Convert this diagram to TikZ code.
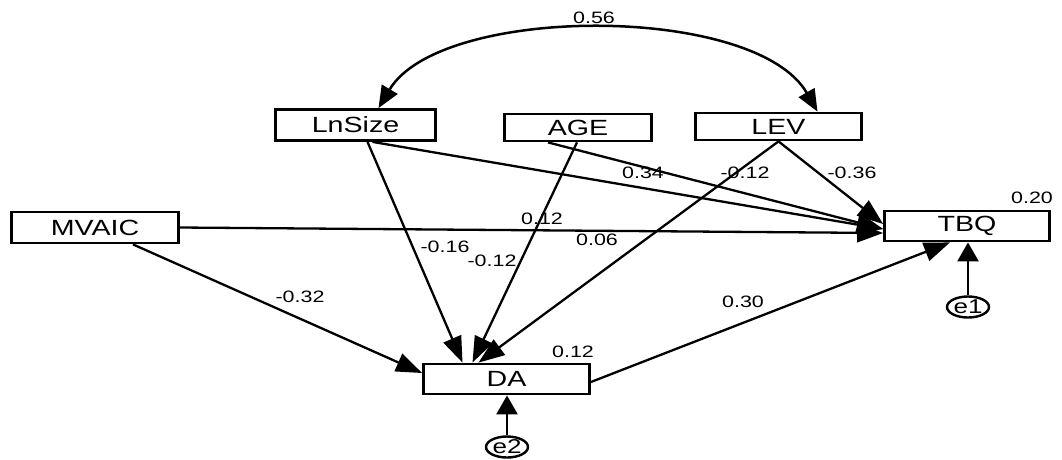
\documentclass[tikz,border=0pt]{standalone}
\usepackage{fontspec}
\setmainfont{Liberation Sans}[FakeStretch=1.3]
\usetikzlibrary{positioning,arrows.meta,calc,shapes.geometric}

\begin{document}
\begin{tikzpicture}[x=1pt,y=-1pt,
  var/.style={draw, line width=2.8pt, inner sep=0pt, font=\fontsize{22}{24}\selectfont},
  err/.style={draw, ellipse, line width=2.4pt, inner sep=0pt, minimum width=42pt, minimum height=21pt, font=\fontsize{20}{20}\selectfont},
  wt/.style={inner sep=0pt, font=\fontsize{16.5}{18}\selectfont},
  reg/.style={line width=2.3pt, -{Triangle[length=26pt,width=19pt]}},
  res/.style={line width=2.5pt, -{Triangle[length=19pt,width=21pt]}},
  cov/.style={line width=2.5pt, {Triangle[length=22pt,width=18pt]}-{Triangle[length=22pt,width=18pt]}}]
  \useasboundingbox (0,0) rectangle (1062,459);

  % Observed variables
  \node[var, minimum width=167pt, minimum height=31pt] (MVAIC) at (95,227.5) {MVAIC};
  \node[var, minimum width=160pt, minimum height=31pt] (LnSize) at (355.5,125) {LnSize};
  \node[var, minimum width=147pt, minimum height=27pt] (AGE) at (578,127.5) {AGE};
  \node[var, minimum width=166pt, minimum height=27pt] (LEV) at (778.5,126.5) {LEV};
  \node[var, minimum width=165pt, minimum height=30pt] (TBQ) at (967,226) {TBQ};
  \node[var, minimum width=166pt, minimum height=30pt] (DA) at (506.5,379) {DA};

  % Error terms
  \node[err] (e1) at (968,307) {e1};
  \node[err] (e2) at (507,447) {e2};

  % Covariance
  \draw[cov] ($(LnSize.north)+(23,0)$) .. controls +(62,-104) and +(-62,-108) .. ($(LEV.north)+(39,0)$);

  % Paths into DA
  \draw[reg] ($(LnSize.south)+(12,0)$) -- ($(DA.north)+(-44,0)$);
  \draw[reg] ($(AGE.south)+(-1,0)$) -- ($(DA.north)+(-34,0)$);
  \draw[reg] (LEV.south) -- ($(DA.north)+(-28,0)$);
  \draw[reg] ($(MVAIC.south)+(38,0)$) -- ($(DA.west)+(0,-6)$);

  % Paths into TBQ
  \draw[reg] ($(LnSize.south)+(17,0)$) -- ($(TBQ.west)+(0,3)$);
  \draw[reg] ($(AGE.south)+(-30,0)$) -- ($(TBQ.west)+(0,3)$);
  \draw[reg] (LEV.south) -- ($(TBQ.west)+(0,-2)$);
  \draw[reg] (MVAIC.east) -- ($(TBQ.west)+(0,7)$);
  \draw[reg] ($(DA.east)+(0,3)$) -- ($(TBQ.south)+(-17,0)$);

  % Residuals
  \draw[res] (e1.north) -- (e1.north |- TBQ.south);
  \draw[res] (e2.north) -- (e2.north |- DA.south);

  % Estimates
  \node[wt] (w56) at (594,18) {0.56};
  \node[wt] (w34) at (643,173) {0.34};
  \node[wt] (wLevDa) at (745,173) {-0.12};
  \node[wt] (wLevTbq) at (852,173) {-0.36};
  \node[wt] (r2Tbq) at (1032,198) {0.20};
  \node[wt] (wAgeTbq) at (542,219) {0.12};
  \node[wt] (w06) at (597,240) {0.06};
  \node[wt] (wSizeDa) at (445,247) {-0.16};
  \node[wt] (wAgeDa) at (492,261) {-0.12};
  \node[wt] (w32) at (300,297) {-0.32};
  \node[wt] (w30) at (743,302) {0.30};
  \node[wt] (r2Da) at (573,352) {0.12};
\end{tikzpicture}
\end{document}
